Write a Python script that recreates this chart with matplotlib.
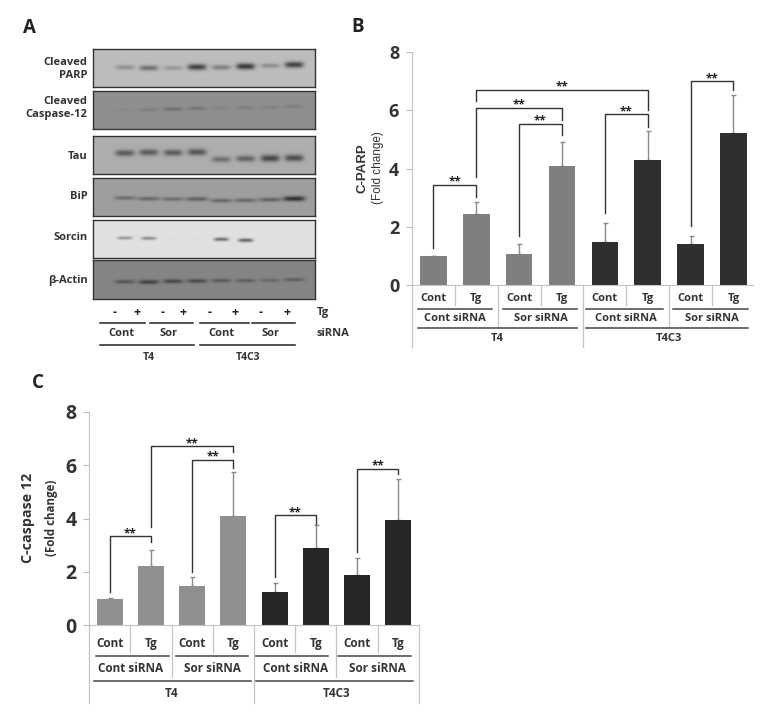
import numpy as np
import matplotlib
matplotlib.use("Agg")
import matplotlib.pyplot as plt

W, H = 777, 712
FONT = ["Open Sans", "DejaVu Sans"]
plt.rcParams["font.family"] = FONT

# Panel A, band darkness per lane (0-1), read by eye
blot_names = ["Cleaved\nPARP", "Cleaved\nCaspase-12", "Tau", "BiP", "Sorcin", "β-Actin"]
parp = [0.30, 0.50, 0.25, 0.80, 0.40, 0.85, 0.30, 0.80]
caspase = [0.05, 0.15, 0.30, 0.25, 0.10, 0.15, 0.12, 0.15]
tau = [0.60, 0.60, 0.60, 0.65, 0.45, 0.55, 0.75, 0.70]
bip = [0.40, 0.45, 0.40, 0.50, 0.45, 0.45, 0.50, 0.90]
sorcin = [0.40, 0.45, 0.02, 0.02, 0.60, 0.65, 0.00, 0.00]
actin = [0.50, 0.70, 0.65, 0.60, 0.45, 0.40, 0.30, 0.40]
tg_signs = ["-", "+", "-", "+", "-", "+", "-", "+"]

# Panel B and C values
cats = ["Cont", "Tg", "Cont", "Tg", "Cont", "Tg", "Cont", "Tg"]
sirna = ["Cont siRNA", "Sor siRNA", "Cont siRNA", "Sor siRNA"]
cells = ["T4", "T4C3"]
parp_vals = [1.00, 2.45, 1.08, 4.08, 1.50, 4.28, 1.42, 5.22]
parp_err = [0.01, 0.40, 0.32, 0.84, 0.62, 1.02, 0.28, 1.30]
casp_vals = [1.00, 2.22, 1.48, 4.10, 1.23, 2.88, 1.88, 3.93]
casp_err = [0.01, 0.61, 0.34, 1.66, 0.37, 0.87, 0.64, 1.54]
# bracket: from bar, to bar, top, left end, right end
parp_brackets = [(0, 1, 3.45, 1.27, 3.03), (2, 3, 5.53, 1.69, 5.14), (1, 3, 6.08, 3.72, 5.65),
                 (1, 5, 6.69, 6.32, 6.00), (4, 5, 5.85, 2.46, 5.43), (6, 7, 6.98, 2.03, 6.68)]
casp_brackets = [(0, 1, 3.35, 1.26, 3.13), (2, 3, 6.20, 2.00, 5.88), (1, 3, 6.70, 3.67, 6.50),
                 (4, 5, 4.12, 1.82, 3.80), (6, 7, 5.87, 2.76, 5.67)]

fig = plt.figure(figsize=(W / 100, H / 100), dpi=100)


def px_axes(x0, y0, x1, y1, **kw):
    return fig.add_axes([x0 / W, 1 - y1 / H, (x1 - x0) / W, (y1 - y0) / H], **kw)


# pixel overlay for panel letters and panel A labels
over = px_axes(0, 0, W, H, zorder=5)
over.set_xlim(0, W)
over.set_ylim(H, 0)
over.axis("off")
over.patch.set_alpha(0)


def blot(y0, y1, vals, bg, rows, bw=9.5, bh=2.8):
    ax = px_axes(93.3, y0, 315.3, y1)
    lanes = np.array([375, 447, 520, 592, 665, 738, 812, 884]) / 3.0 - 93.3
    xx, yy = np.meshgrid(np.linspace(0, 222, 444), np.linspace(0, y1 - y0, 80))
    img = np.full(xx.shape, bg, dtype=float)
    for lane, v, r in zip(lanes, vals, rows):
        b = np.exp(-((xx - lane) / bw) ** 4) * np.exp(-((yy - (r / 3.0 - y0)) / (bh * (0.7 + 0.5 * v))) ** 2)
        img -= v * (bg - 0.14) * b
    ax.imshow(img, cmap="gray", vmin=0, vmax=1, aspect="auto", interpolation="bilinear")
    ax.set_xticks([])
    ax.set_yticks([])
    for s in ax.spines.values():
        s.set_color("#333333")
        s.set_linewidth(1.0)


blot(49.3, 87.3, parp, 0.74, [203, 205, 205, 202, 203, 200, 198, 195])
blot(91.3, 129.3, caspase, 0.56, [330, 330, 328, 326, 324, 324, 323, 320], bh=2.2)
blot(136.3, 174.3, tau, 0.68, [460, 458, 459, 457, 479, 477, 476, 475], bh=3.2)
blot(178.3, 216.3, bip, 0.62, [595, 597, 598, 598, 603, 602, 600, 597], bw=11, bh=2.2)
blot(219.7, 257.7, sorcin, 0.88, [713, 714, 714, 714, 717, 720, 714, 714], bw=7.5, bh=1.8)
blot(260.3, 298.7, actin, 0.52, [845, 846, 844, 843, 842, 842, 841, 839], bw=10, bh=2.0)

label_y = [(62.5, 76), (101.5, 115), (156.5,), (196.5,), (237,), (280,)]
for name, ys in zip(blot_names, label_y):
    for part, y in zip(name.split("\n"), ys):
        over.text(87.5, y, part, ha="right", va="center", fontsize=8, fontweight="bold", color="#333333")

for x, s in zip([115, 136.5, 162.5, 183.5, 209.5, 235, 261, 286.5], tg_signs):
    over.text(x, 312.5, s, ha="center", va="center", fontsize=9, fontweight="bold", color="#222222")
over.text(316.5, 313, "Tg", ha="left", va="center", fontsize=8, fontweight="bold", color="#333333")
over.text(316.5, 334, "siRNA", ha="left", va="center", fontsize=8, fontweight="bold", color="#333333")
for x0, x1 in [(100, 145), (150, 193), (200, 249), (252, 295)]:
    over.plot([x0, x1], [322.7, 322.7], color="#222222", lw=1.1)
for x0, x1 in [(100, 194), (200, 295)]:
    over.plot([x0, x1], [345.3, 345.3], color="#222222", lw=1.1)
for x, y, s in [(121.5, 334, "Cont"), (169, 334, "Sor"), (221.5, 334, "Cont"), (270.5, 333, "Sor")]:
    over.text(x, y, s, ha="center", va="center", fontsize=8, fontweight="bold", color="#333333")
for x, s in zip([148.5, 248.5], cells):
    over.text(x, 357, s, ha="center", va="center", fontsize=7.5, fontweight="bold", color="#333333")

for x, y, s in [(29, 28, "A"), (358, 27, "B"), (38, 383, "C")]:
    over.text(x, y, s, ha="center", va="center", fontsize=13.5, fontweight="bold", color="#222222")


def bar_panel(box, vals, err, brackets, colors, barw, tick_fs, rows, xspans, show_right):
    ax = px_axes(*box)
    x = np.arange(8)
    ax.bar(x, vals, width=barw, color=colors, zorder=2)
    ax.errorbar(x, vals, yerr=[np.zeros(8), err], fmt="none", ecolor="#8a8a8a", elinewidth=1.0,
                capsize=1.8, capthick=1.0, zorder=1)
    ax.set_xlim(*xspans)
    ax.set_ylim(0, 8)
    ax.patch.set_alpha(0)
    ax.set_yticks([0, 2, 4, 6, 8])
    ax.set_xticks([])
    ax.tick_params(axis="y", length=4, width=0.8, color="#bbbbbb", labelcolor="#333333", labelsize=tick_fs, pad=5)
    for lab in ax.get_yticklabels():
        lab.set_fontweight("bold")
    for s in ["top", "right"]:
        ax.spines[s].set_visible(False)
    ax.spines["left"].set_color("#c4c4c4")
    ax.spines["bottom"].set_color("#c4c4c4")

    grey = "#c4c4c4"
    dark = "#444444"
    r = rows
    # left axis carries on below zero, as do the separators of the category table
    ax.plot([xspans[0]] * 2, [0, r["bottom"]], color=grey, lw=0.9, clip_on=False)
    if show_right:
        ax.plot([xspans[1]] * 2, [0, r["bottom"]], color=grey, lw=0.9, clip_on=False)
    ax.plot([3.5, 3.5], [0, r["bottom"]], color=grey, lw=0.9, clip_on=False)
    for sx in [0.5, 2.5, 4.5, 6.5]:
        ax.plot([sx, sx], [0, r["sep1"]], color=grey, lw=0.9, clip_on=False)
    for sx in [1.5, 5.5]:
        ax.plot([sx, sx], [0, r["sep2"]], color=grey, lw=0.9, clip_on=False)
    for i, c in enumerate(cats):
        ax.text(i, r["t1"], c, ha="center", va="center", fontsize=r["fs"], fontweight="bold", color="#333333")
    for a, b in r["spans1"]:
        ax.plot([a, b], [r["l1"]] * 2, color=dark, lw=1.1, clip_on=False)
    for i, s in enumerate(sirna):
        ax.text(0.5 + 2 * i, r["t2"], s, ha="center", va="center", fontsize=r["fs"], fontweight="bold", color="#333333")
    for a, b in r["spans2"]:
        ax.plot([a, b], [r["l2"]] * 2, color=dark, lw=1.1, clip_on=False)
    for cx, s in zip([1.5, 5.5], cells):
        ax.text(cx, r["t3"], s, ha="center", va="center", fontsize=r["fs"], fontweight="bold", color="#333333")

    for i, j, top, left, right in brackets:
        ax.plot([i, i, j, j], [left, top, top, right], color="#333333", lw=1.0, clip_on=False, zorder=3)
        ax.text((i + j) / 2, top + 0.09, "**", ha="center", va="center", fontsize=8.5, fontweight="bold", color="#222222")
    return ax


greys_b = ["#7f7f7f"] * 4 + ["#2f2f2f"] * 4
greys_c = ["#8f8f8f"] * 4 + ["#262626"] * 4

bar_panel((411.7, 51.7, 752.7, 285.3), parp_vals, parp_err, parp_brackets, greys_b, 0.62, 13,
          dict(t1=-0.46, l1=-0.81, t2=-1.13, l2=-1.45, t3=-1.82, bottom=-2.1, sep1=-0.68, sep2=-1.39, fs=8,
               spans1=[(-0.365, 1.37), (1.625, 3.34), (3.55, 5.35), (5.58, 7.35)],
               spans2=[(-0.365, 3.34), (3.55, 7.35)]),
          (-0.505, 7.45), False)

bar_panel((89.3, 411.7, 418.7, 625.3), casp_vals, casp_err, casp_brackets, greys_c, 0.63, 14,
          dict(t1=-0.67, l1=-1.14, t2=-1.62, l2=-2.07, t3=-2.57, bottom=-2.92, sep1=-0.99, sep2=-1.95, fs=8.5,
               spans1=[(-0.34, 1.43), (1.6, 3.36), (3.55, 5.3), (5.55, 7.31)],
               spans2=[(-0.38, 3.42), (3.55, 7.36)]),
          (-0.5, 7.5), True)

over.text(363, 168, "C-PARP", rotation=90, ha="center", va="center", fontsize=9.5, fontweight="bold",
          color="#333333", family="Liberation Sans")
over.text(378, 168, "(Fold change)", rotation=90, ha="center", va="center", fontsize=8.5,
          color="#333333", family="Liberation Sans")
over.text(28, 518, "C-caspase 12", rotation=90, ha="center", va="center", fontsize=10.3, fontweight="bold", color="#333333")
over.text(52, 518, "(Fold change)", rotation=90, ha="center", va="center", fontsize=8.3, fontweight="bold", color="#333333")

fig.savefig("out.png", dpi=100)
